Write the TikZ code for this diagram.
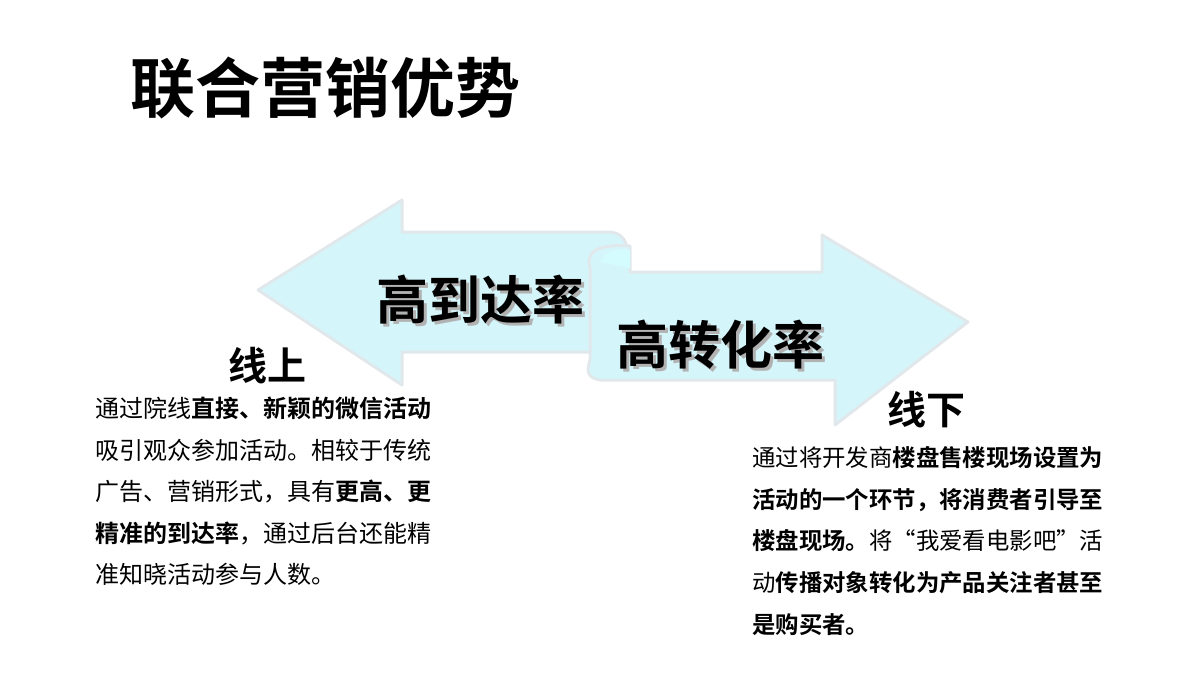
\documentclass[tikz,border=0pt]{standalone}
\usepackage{fontspec}
\newfontfamily\cjk{Noto Sans CJK SC}
\newfontfamily\cjkb{Noto Sans CJK SC Bold}
\definecolor{arrfill}{RGB}{212,246,251}
\definecolor{arredge}{RGB}{225,232,236}
\tikzset{
 arrowshape/.style={fill=arrfill, draw=arredge, line width=3pt, line join=round},
 bigtxt/.style={font=\cjkb\fontsize{52}{56}\selectfont, inner sep=0pt},
 sub/.style={font=\cjkb\fontsize{39}{42}\selectfont, inner sep=0pt},
 para/.style={font=\cjk\fontsize{24}{41.5}\selectfont, align=left, anchor=north west, inner sep=0pt, text width=400pt},
}
\begin{document}
\begin{tikzpicture}[x=1pt,y=-1pt]
\useasboundingbox (0,0) rectangle (1200,675);
% left arrow
\draw[arrowshape] (258,290) -- (402,200) -- (402,232) -- (610,232)
  .. controls (632,234) and (632,262) .. (612,266) -- (612,352) -- (402,352) -- (402,385) -- cycle;
% right arrow
\draw[arrowshape] (590,268) .. controls (585,250) and (600,244) .. (630,246) -- (630,272) -- (822,272) -- (822,235) -- (968,322) -- (835,425) -- (835,380) -- (600,380) .. controls (588,378) and (586,372) .. (590,360) -- cycle;
\fill[arrfill!70!cyan!40] (600,262) .. controls (605,250) and (620,248) .. (630,250) -- (630,268) -- cycle;
% title
\node[font=\cjkb\fontsize{65}{70}\selectfont, inner sep=0pt] (title) at (325,88) {联合营销优势};
\node[bigtxt, text=gray!60] at (483,303) {高到达率};
\node[bigtxt] (t1) at (480,300) {高到达率};
\node[bigtxt, text=gray!60] at (723,348) {高转化率};
\node[bigtxt] (t2) at (720,345) {高转化率};
\node[sub] (on) at (267,366) {线上};
\node[sub] (off) at (926,410) {线下};
\node[para] (p1) at (95,397) {通过院线{\cjkb 直接、新颖的微信活动}\\吸引观众参加活动。相较于传统\\广告、营销形式，具有{\cjkb 更高、更}\\{\cjkb 精准的到达率}，通过后台还能精\\准知晓活动参与人数。};
\node[para, font=\cjk\fontsize{23.4}{41.8}\selectfont] (p2) at (752,446) {通过将开发商{\cjkb 楼盘售楼现场设置为}\\{\cjkb 活动的一个环节，将消费者引导至}\\{\cjkb 楼盘现场。}将“我爱看电影吧”活\\动{\cjkb 传播对象转化为产品关注者甚至}\\{\cjkb 是购买者。}};
\end{tikzpicture}
\end{document}
